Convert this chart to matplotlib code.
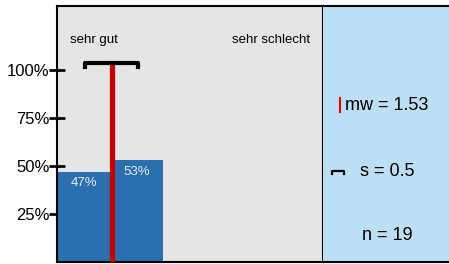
import matplotlib
matplotlib.use("Agg")
import matplotlib.pyplot as plt

plt.rcParams['font.family'] = ['Liberation Sans', 'DejaVu Sans']

# Daten
kategorien = [1, 2, 3, 4, 5]
anteile = [0.47, 0.53, 0.0, 0.0, 0.0]
balken_labels = ['47%', '53%', '', '', '']
mw = 1.53
s = 0.5
n = 19
skala_links = 'sehr gut'
skala_rechts = 'sehr schlecht'
yticks = [0.25, 0.5, 0.75, 1.0]
ytick_labels = ['25%', '50%', '75%', '100%']

W, H = 449, 264
fig = plt.figure(figsize=(W / 100, H / 100), dpi=100)

# Hauptdiagramm
ax = fig.add_axes([57 / W, 1 - 262 / H, (323 - 57) / W, 256 / H])
ax.set_facecolor('#e5e5e5')
ax.set_xlim(0.5, 5.5)
ax.set_ylim(0, 256 / 192)
ax.bar(kategorien, anteile, width=1.0, color='#2b6fae', zorder=2)
for x, v, lab in zip(kategorien, anteile, balken_labels):
    if lab:
        ax.text(x, v - 0.06, lab, ha='center', va='center', color='#e2ecf7',
                fontsize=9.5, zorder=4)

# Mittelwert + Standardabweichung
y_top = 1.035
ax.plot([mw, mw], [0, y_top], color='#c00000', lw=3.8, zorder=3,
        solid_capstyle='butt')
ax.plot([mw - s, mw - s, mw + s, mw + s], [1.015, y_top, y_top, 1.015],
        color='black', lw=3.0, zorder=4, solid_joinstyle='round')

ax.text(0.75, 1.155, skala_links, ha='left', va='center', fontsize=9.5)
ax.text(5.25, 1.155, skala_rechts, ha='right', va='center', fontsize=9.5)

ax.set_xticks([])
ax.set_yticks(yticks)
ax.set_yticklabels(ytick_labels, fontsize=12)
ax.tick_params(axis='y', direction='inout', length=11, width=2, pad=0)
for sp in ax.spines.values():
    sp.set_linewidth(1.5)
    sp.set_color('black')

# Infofeld rechts
ax2 = fig.add_axes([323 / W, 1 - 262 / H, (460 - 323) / W, 256 / H])
ax2.set_facecolor('#bddff5')
ax2.set_xlim(0, 137)
ax2.set_ylim(256, 0)
ax2.set_xticks([])
ax2.set_yticks([])
ax2.spines['right'].set_visible(False)
ax2.spines['left'].set_visible(False)
for k in ['top', 'bottom']:
    ax2.spines[k].set_linewidth(1.5)

ax2.plot([17, 17], [92, 106], color='#e00000', lw=1.5)
ax2.text(22, 99, f'mw = {mw:.2f}', ha='left', va='center', fontsize=13)
ax2.plot([9, 9, 21, 21], [168, 164.5, 164.5, 168], color='black', lw=1.6)
ax2.text(37, 166, f's = {s}', ha='left', va='center', fontsize=13)
ax2.text(39, 229, f'n = {n}', ha='left', va='center', fontsize=13)

# Trennlinie
ax.axvline(5.5, color='black', lw=2, zorder=5)

fig.savefig('out.png', dpi=100)
